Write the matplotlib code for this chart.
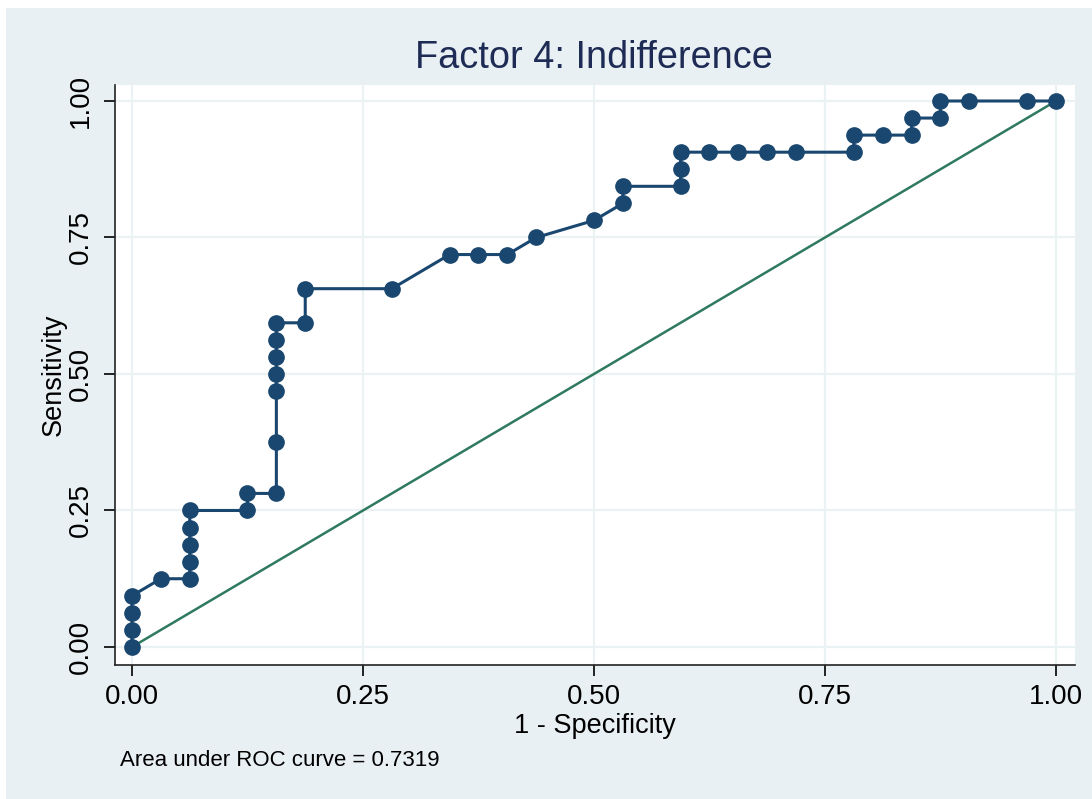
import matplotlib
matplotlib.use("Agg")
import matplotlib.pyplot as plt
from matplotlib.patches import Rectangle

# ROC coordinates (1 - specificity, sensitivity)
fpr = [0.0, 0.0, 0.0, 0.0, 0.03125, 0.0625, 0.0625, 0.0625, 0.0625, 0.0625,
       0.125, 0.125, 0.15625, 0.15625, 0.15625, 0.15625, 0.15625, 0.15625, 0.15625,
       0.1875, 0.1875, 0.28125, 0.34375, 0.375, 0.40625, 0.4375, 0.5,
       0.53125, 0.53125, 0.59375, 0.59375, 0.59375, 0.625, 0.65625, 0.6875,
       0.71875, 0.78125, 0.78125, 0.8125, 0.84375, 0.84375, 0.875, 0.875,
       0.90625, 0.96875, 1.0]
tpr = [0.0, 0.03125, 0.0625, 0.09375, 0.125, 0.125, 0.15625, 0.1875, 0.21875, 0.25,
       0.25, 0.28125, 0.28125, 0.375, 0.46875, 0.5, 0.53125, 0.5625, 0.59375,
       0.59375, 0.65625, 0.65625, 0.71875, 0.71875, 0.71875, 0.75, 0.78125,
       0.8125, 0.84375, 0.84375, 0.875, 0.90625, 0.90625, 0.90625, 0.90625,
       0.90625, 0.90625, 0.9375, 0.9375, 0.9375, 0.96875, 0.96875, 1.0,
       1.0, 1.0, 1.0]
ticks = [0.0, 0.25, 0.5, 0.75, 1.0]
tick_labels = ["0.00", "0.25", "0.50", "0.75", "1.00"]
auc_text = "Area under ROC curve = 0.7319"
title = "Factor 4: Indifference"

plt.rcParams["font.family"] = ["Liberation Sans", "DejaVu Sans"]

W, H = 1092, 799
fig = plt.figure(figsize=(W / 100, H / 100), dpi=100, facecolor="white")
bg = "#E9F0F3"
fig.patches.append(Rectangle((6 / W, 0), 1 - 6 / W, 1 - 8 / H,
                             transform=fig.transFigure, facecolor=bg,
                             edgecolor="none", zorder=-10))

ax = fig.add_axes([115 / W, 1 - 665 / H, (1075 - 115) / W, (665 - 85) / H])
ax.set_zorder(1)
ax.set_facecolor("white")
ax.set_xlim(-0.0184, 1.0206)
ax.set_ylim(-0.033, 1.0293)

ax.set_xticks(ticks)
ax.set_xticklabels(tick_labels)
ax.set_yticks(ticks)
ax.set_yticklabels(tick_labels, rotation=90, va="center")
ax.grid(True, color="#EAF2F3", linewidth=1.6, zorder=0)
ax.set_axisbelow(True)
ax.tick_params(axis="both", direction="out", length=8, width=1.2,
               labelsize=20, colors="black")
ax.tick_params(axis="x", pad=6)
ax.tick_params(axis="y", pad=7)

for s in ["top", "right"]:
    ax.spines[s].set_visible(False)
for s in ["left", "bottom"]:
    ax.spines[s].set_color("#222222")
    ax.spines[s].set_linewidth(1.2)

# reference line
ax.plot([0, 1], [0, 1], color="#2F7A5E", linewidth=1.8, zorder=2)
# ROC curve
ax.plot(fpr, tpr, color="#1A476F", linewidth=2.2, marker="o",
        markersize=11, markerfacecolor="#1A476F", markeredgecolor="#1A476F",
        zorder=3, clip_on=False)

ax.set_xlabel("1 - Specificity", fontsize=19.5, labelpad=2)
ax.set_ylabel("Sensitivity", fontsize=19.5, labelpad=1)

fig.text(594 / W, 1 - 58 / H, title, fontsize=27.3, color="#1E2B55",
         ha="center", va="center")
fig.text(120 / W, 1 - 760 / H, auc_text, fontsize=16, color="black",
         ha="left", va="center")

fig.savefig("out.png", dpi=100, facecolor=fig.get_facecolor())
